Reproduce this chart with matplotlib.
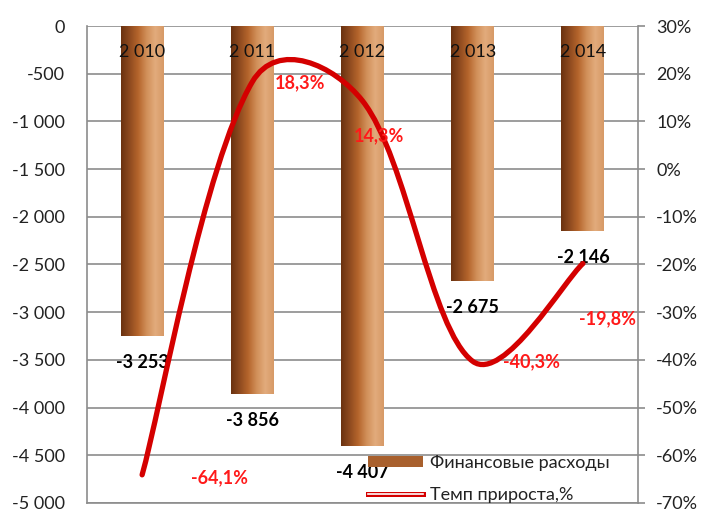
import numpy as np
import matplotlib.pyplot as plt
from matplotlib.path import Path
from matplotlib.patches import PathPatch, Patch
from matplotlib.lines import Line2D
from matplotlib.colors import LinearSegmentedColormap
import matplotlib.patheffects as pe

plt.rcParams['font.family'] = ['Lato', 'DejaVu Sans']

years = ["2 010", "2 011", "2 012", "2 013", "2 014"]
expenses = [-3253, -3856, -4407, -2675, -2146]
expense_labels = ["-3 253", "-3 856", "-4 407", "-2 675", "-2 146"]
growth = [-64.1, 18.3, 14.3, -40.3, -19.8]
growth_labels = ["-64,1%", "18,3%", "14,3%", "-40,3%", "-19,8%"]
# label offsets (points) for the growth labels
growth_offsets = [(35, -2), (16, -1), (-6, -25), (22, 0), (-3, -40)]

left_ticks = np.arange(-5000, 1, 500)
right_ticks = np.arange(-70, 31, 10)

grid_c = "#8c8c8c"
line_c = "#d40000"
fs = 13

fig = plt.figure(figsize=(7.04, 5.11), dpi=100)
ax = fig.add_axes([0.1236, 0.0157, 0.7827, 0.9334])
x = np.arange(len(years))

bars = ax.bar(x, expenses, width=0.39, color="#b06a35", zorder=2)
cmap = LinearSegmentedColormap.from_list(
    "brown", ["#6a3210", "#8e4a1f", "#b5652c", "#d1905a", "#e2ab7c", "#d79a66"])
grad = np.linspace(0, 1, 256).reshape(1, -1)
for b in bars:
    x0, y0 = b.get_x(), b.get_y()
    im = ax.imshow(grad, cmap=cmap, aspect="auto", zorder=2.1,
                   extent=[x0, x0 + b.get_width(), y0 + b.get_height(), y0])
    im.set_clip_path(b)

ax.set_xlim(-0.5, len(years) - 0.5)
ax.set_ylim(-5000, 0)
ax.set_yticks(left_ticks)
ax.set_yticklabels([f"{v:,}".replace(",", " ") for v in left_ticks])
ax.set_xticks([])
ax.tick_params(axis="y", length=0, pad=16, labelsize=fs, colors="#222222")
ax.grid(axis="y", color=grid_c, linewidth=1.2, zorder=1)
ax.set_axisbelow(True)
for s in ["left", "bottom", "right"]:
    ax.spines[s].set_color(grid_c)
    ax.spines[s].set_linewidth(1.2)
ax.spines["top"].set_visible(False)

for xi, lab in zip(x, years):
    ax.text(xi, -270, lab, ha="center", va="center", fontsize=fs,
            color="#111111", zorder=3)

for xi, v, lab in zip(x, expenses, expense_labels):
    ax.annotate(lab, (xi, v), xytext=(0, -19), textcoords="offset points",
                ha="center", va="center", fontsize=fs, fontweight="bold",
                color="black", zorder=3)

ax2 = ax.twinx()
ax2.set_ylim(-70, 30)
ax2.set_yticks(right_ticks)
ax2.set_yticklabels([f"{v}%" for v in right_ticks])
ax2.tick_params(axis="y", length=5, width=1.2, color=grid_c, pad=8,
                labelsize=fs, labelcolor="#222222")
for s in ax2.spines.values():
    s.set_visible(False)

# smooth line: bezier through the points, handles weighted by segment length
# (worked out in pixel space so it looks like the spreadsheet smoothing)
bb = ax2.get_position()
sx = bb.width * fig.get_figwidth() * fig.dpi / len(years)
sy = bb.height * fig.get_figheight() * fig.dpi / 100.0
P = np.column_stack([x * sx, np.array(growth) * sy]).astype(float)
n = len(P)
c_in = [None] * n
c_out = [None] * n
c_out[0] = P[0] + (P[1] - P[0]) / 6
c_in[-1] = P[-1] - (P[-1] - P[-2]) / 6
for i in range(1, n - 1):
    T = P[i + 1] - P[i - 1]
    a = np.sqrt(np.hypot(*(P[i] - P[i - 1])))
    b = np.sqrt(np.hypot(*(P[i + 1] - P[i])))
    c_in[i] = P[i] - T / 3 * a / (a + b)
    c_out[i] = P[i] + T / 3 * b / (a + b)
verts = [P[0]]
codes = [Path.MOVETO]
for i in range(n - 1):
    verts += [c_out[i], c_in[i + 1], P[i + 1]]
    codes += [Path.CURVE4] * 3
verts = np.array(verts) / [sx, sy]
ax2.add_patch(PathPatch(Path(verts, codes), fill=False, edgecolor=line_c,
                        linewidth=3.8, capstyle="round", zorder=4))

for xi, v, lab, off in zip(x, growth, growth_labels, growth_offsets):
    ax2.annotate(lab, (xi, v), xytext=off, textcoords="offset points",
                 ha="left", va="center", fontsize=fs, fontweight="bold",
                 color="#ff1a1a", zorder=5)

handles = [Patch(facecolor="#a8602d", edgecolor="none"),
           Line2D([0], [0], color="white", linewidth=1.2,
                  path_effects=[pe.Stroke(linewidth=3.6, foreground=line_c),
                                pe.Normal()])]
leg = ax2.legend(handles, ["Финансовые расходы", "Темп прироста,%"],
                 loc="lower left", bbox_to_anchor=(0.51, 0.0), frameon=False,
                 fontsize=fs, handlelength=3.05, handleheight=0.6,
                 handletextpad=0.4, labelspacing=0.88, borderpad=0,
                 borderaxespad=0)
for t in leg.get_texts():
    t.set_color("#222222")

fig.savefig("out.png", dpi=100)
